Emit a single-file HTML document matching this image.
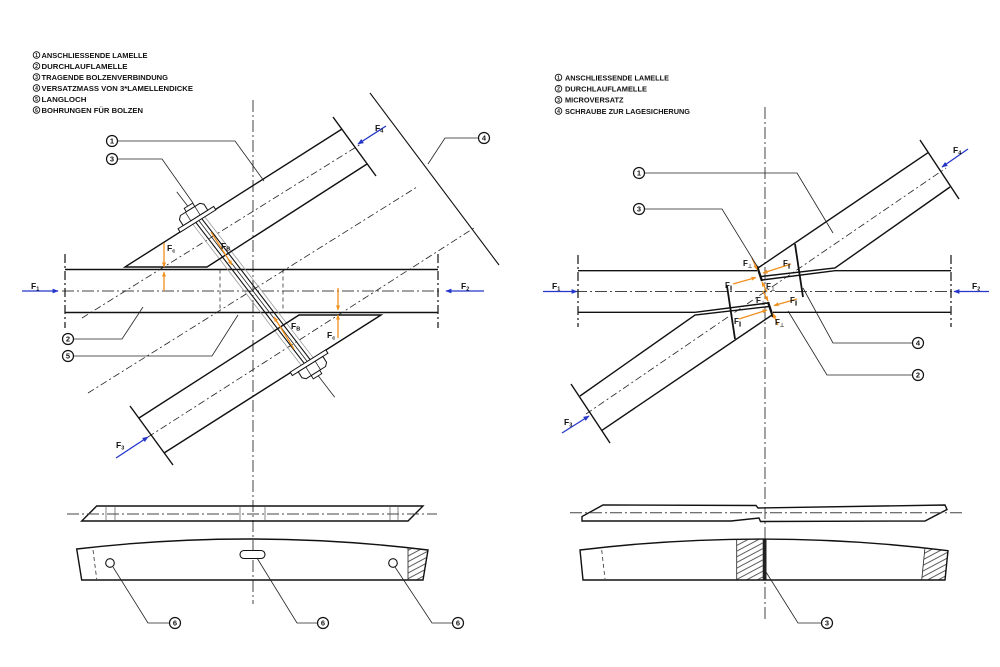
<!DOCTYPE html>
<html><head><meta charset="utf-8"><style>
html,body{margin:0;padding:0;background:#fff;}
svg{display:block}
text{font-family:"Liberation Sans",Arial,sans-serif;font-weight:bold;fill:#111}
.k{stroke:#111;stroke-width:1.4;fill:none}
.th{stroke:#222;stroke-width:0.8;fill:none}
.cl{stroke:#444;stroke-width:1;fill:none;stroke-dasharray:12 3 2 3}
.ce{stroke:#222;stroke-width:1.3;fill:none;stroke-dasharray:9 3 2 3}
.dl{stroke:#222;stroke-width:0.8;fill:none;stroke-dasharray:7 3 2 3}
.ds{stroke:#333;stroke-width:0.8;fill:none;stroke-dasharray:4 3}
.o{stroke:#f0901e;stroke-width:1.3;fill:none}
.b{stroke:#2436c8;stroke-width:1.3;fill:none}
.g{stroke:#9a9a9a;stroke-width:0.8;fill:none}
.lc{fill:#fff;stroke:#111;stroke-width:1.2}
.sc{fill:#fff;stroke:#111;stroke-width:0.9}
</style></head><body>
<svg width="1000" height="667" viewBox="0 0 1000 667" xmlns="http://www.w3.org/2000/svg">
<defs>
<marker id="mb" viewBox="0 0 10 10" refX="9" refY="5" markerWidth="8" markerHeight="6" markerUnits="userSpaceOnUse" orient="auto"><path d="M0,1 L10,5 L0,9 Z" fill="#2436c8"/></marker>
<marker id="mo" viewBox="0 0 10 10" refX="9" refY="5" markerWidth="6" markerHeight="5" markerUnits="userSpaceOnUse" orient="auto"><path d="M0,1 L10,5 L0,9 Z" fill="#f0901e"/></marker>
<pattern id="hp" width="5" height="5" patternUnits="userSpaceOnUse" patternTransform="rotate(-28)"><line x1="0" y1="2.5" x2="5" y2="2.5" stroke="#333" stroke-width="0.8"/></pattern>
</defs>
<rect width="1000" height="667" fill="#fff"/>

<!-- ===== LEFT LEGEND ===== -->
<g font-size="7.5">
<circle class="sc" cx="36.5" cy="55" r="3.3"/><text x="36.5" y="57" font-size="5" text-anchor="middle">1</text>
<text x="41.5" y="57.8" textLength="106" lengthAdjust="spacingAndGlyphs">ANSCHLIESSENDE LAMELLE</text>
<circle class="sc" cx="36.5" cy="66" r="3.3"/><text x="36.5" y="68" font-size="5" text-anchor="middle">2</text>
<text x="41.5" y="68.8" textLength="86" lengthAdjust="spacingAndGlyphs">DURCHLAUFLAMELLE</text>
<circle class="sc" cx="36.5" cy="77" r="3.3"/><text x="36.5" y="79" font-size="5" text-anchor="middle">3</text>
<text x="41.5" y="79.8" textLength="126.5" lengthAdjust="spacingAndGlyphs">TRAGENDE BOLZENVERBINDUNG</text>
<circle class="sc" cx="36.5" cy="88" r="3.3"/><text x="36.5" y="90" font-size="5" text-anchor="middle">4</text>
<text x="41.5" y="90.8" textLength="151.5" lengthAdjust="spacingAndGlyphs">VERSATZMASS VON 3*LAMELLENDICKE</text>
<circle class="sc" cx="36.5" cy="99" r="3.3"/><text x="36.5" y="101" font-size="5" text-anchor="middle">5</text>
<text x="41.5" y="101.8" textLength="45" lengthAdjust="spacingAndGlyphs">LANGLOCH</text>
<circle class="sc" cx="36.5" cy="110" r="3.3"/><text x="36.5" y="112" font-size="5" text-anchor="middle">6</text>
<text x="41.5" y="112.8" textLength="101.5" lengthAdjust="spacingAndGlyphs">BOHRUNGEN FÜR BOLZEN</text>
</g>

<!-- ===== RIGHT LEGEND ===== -->
<g font-size="7.5">
<circle class="sc" cx="558.5" cy="77.5" r="3.3"/><text x="558.5" y="79.5" font-size="5" text-anchor="middle">1</text>
<text x="565" y="80.3" textLength="104" lengthAdjust="spacingAndGlyphs">ANSCHLIESSENDE LAMELLE</text>
<circle class="sc" cx="558.5" cy="88.7" r="3.3"/><text x="558.5" y="90.7" font-size="5" text-anchor="middle">2</text>
<text x="565" y="91.5" textLength="82" lengthAdjust="spacingAndGlyphs">DURCHLAUFLAMELLE</text>
<circle class="sc" cx="558.5" cy="99.9" r="3.3"/><text x="558.5" y="101.9" font-size="5" text-anchor="middle">3</text>
<text x="565" y="102.7" textLength="58.5" lengthAdjust="spacingAndGlyphs">MICROVERSATZ</text>
<circle class="sc" cx="558.5" cy="111" r="3.3"/><text x="558.5" y="113" font-size="5" text-anchor="middle">4</text>
<text x="565" y="113.8" textLength="125" lengthAdjust="spacingAndGlyphs">SCHRAUBE ZUR LAGESICHERUNG</text>
</g>

<!-- ===== LEFT MAIN DRAWING ===== -->
<line class="cl" x1="253" y1="100" x2="253" y2="604"/>
<!-- beam -->
<line class="k" x1="65" y1="269.5" x2="438" y2="269.5"/>
<line class="k" x1="65" y1="312.5" x2="438" y2="312.5"/>
<line class="cl" x1="62" y1="291" x2="442" y2="291"/>
<line class="ce" x1="65" y1="254" x2="65" y2="328"/>
<line class="ce" x1="438" y1="254" x2="438" y2="328"/>
<line class="ds" x1="220" y1="269.5" x2="220" y2="312.5"/>
<line class="ds" x1="283" y1="269.5" x2="283" y2="312.5"/>
<!-- diagonal dashed lines -->
<line class="dl" x1="82" y1="318" x2="361" y2="144"/>
<line class="dl" x1="88" y1="393" x2="417" y2="187"/>
<line class="dl" x1="148" y1="437" x2="474" y2="228"/>
<!-- Versatzmass line -->
<line stroke="#111" stroke-width="1.1" x1="370" y1="93" x2="499" y2="265"/>

<!-- bolt -->
<g transform="translate(253,291) rotate(52.43)">
<line class="th" x1="-125" y1="0" x2="134" y2="0"/>
<line class="g" x1="-90" y1="-7" x2="90" y2="-7"/>
<line class="g" x1="-90" y1="7" x2="90" y2="7"/>
<line stroke="#111" stroke-width="1.1" x1="-89" y1="-3.5" x2="89" y2="-3.5"/>
<line stroke="#111" stroke-width="1.1" x1="-89" y1="3.5" x2="89" y2="3.5"/>
</g>

<!-- member 1 (upper) -->
<g>
<polyline class="k" points="342,129 125,267 207,267 367,164"/>
<line class="k" x1="333" y1="117" x2="376" y2="176"/>
<g transform="translate(198,221) rotate(-32.05)">
<rect x="-5" y="-18" width="10" height="4" fill="#fff" stroke="#111" stroke-width="0.9"/>
<rect x="-21" y="-4" width="42" height="4" fill="#fff" stroke="#111" stroke-width="1"/>
<path d="M-15,-4 L-15,-11 L-12,-14 L11,-14 L14,-11 L14,-4 Z" fill="#fff" stroke="#111" stroke-width="1"/>
<line x1="-6" y1="-4" x2="-6" y2="-14" stroke="#111" stroke-width="0.7"/>
<line x1="5" y1="-4" x2="5" y2="-14" stroke="#111" stroke-width="0.7"/>
</g>
</g>
<!-- member 2 (lower) : point symmetric -->
<g transform="rotate(180 253 291)">
<polyline class="k" points="342,129 125,267 207,267 367,164"/>
<line class="k" x1="333" y1="117" x2="376" y2="176"/>
<g transform="translate(198,221) rotate(-32.05)">
<rect x="-5" y="-18" width="10" height="4" fill="#fff" stroke="#111" stroke-width="0.9"/>
<rect x="-21" y="-4" width="42" height="4" fill="#fff" stroke="#111" stroke-width="1"/>
<path d="M-15,-4 L-15,-11 L-12,-14 L11,-14 L14,-11 L14,-4 Z" fill="#fff" stroke="#111" stroke-width="1"/>
<line x1="-6" y1="-4" x2="-6" y2="-14" stroke="#111" stroke-width="0.7"/>
<line x1="5" y1="-4" x2="5" y2="-14" stroke="#111" stroke-width="0.7"/>
</g>
</g>

<!-- orange forces left -->
<line class="o" x1="164" y1="243" x2="164" y2="267" marker-end="url(#mo)"/>
<line class="o" x1="164" y1="291" x2="164" y2="272" marker-end="url(#mo)"/>
<line class="o" x1="338" y1="288" x2="338" y2="310" marker-end="url(#mo)"/>
<line class="o" x1="338" y1="338" x2="338" y2="315" marker-end="url(#mo)"/>
<line class="o" x1="211" y1="232" x2="232" y2="265" marker-end="url(#mo)"/>
<line class="o" x1="294" y1="349" x2="274" y2="317" marker-end="url(#mo)"/>
<g font-size="8.5">
<text x="167" y="251">F<tspan font-size="5.5" dy="1.5">c</tspan></text>
<text x="221" y="249">F<tspan font-size="5.5" dy="1.5">B</tspan></text>
<text x="291" y="329">F<tspan font-size="5.5" dy="1.5">B</tspan></text>
<text x="327" y="338">F<tspan font-size="5.5" dy="1.5">c</tspan></text>
</g>

<!-- blue forces left -->
<line class="b" x1="22" y1="291" x2="58" y2="291" marker-end="url(#mb)"/>
<line class="b" x1="484" y1="291" x2="446" y2="291" marker-end="url(#mb)"/>
<line class="b" x1="386" y1="126" x2="358" y2="144" marker-end="url(#mb)"/>
<line class="b" x1="116" y1="458" x2="148" y2="437" marker-end="url(#mb)"/>
<g font-size="8.5">
<text x="31" y="289">F<tspan font-size="5.5" dy="1.5">1</tspan></text>
<text x="461" y="289">F<tspan font-size="5.5" dy="1.5">2</tspan></text>
<text x="375" y="131">F<tspan font-size="5.5" dy="1.5">4</tspan></text>
<text x="116" y="448">F<tspan font-size="5.5" dy="1.5">3</tspan></text>
</g>

<!-- leaders left -->
<polyline class="th" stroke-width="1" points="478.5,138 445,138 428,164"/>
<polyline class="th" stroke-width="1" points="117.5,141 235,141 264,181"/>
<polyline class="th" stroke-width="1" points="117.5,159 162,159 193,203"/>
<polyline class="th" stroke-width="1" points="73.5,339 122,339 143,307"/>
<polyline class="th" stroke-width="1" points="73.5,356 212,356 238,315"/>
<g font-size="7.5" text-anchor="middle">
<circle class="lc" cx="484" cy="138" r="5.5"/><text x="484" y="140.7">4</text>
<circle class="lc" cx="112" cy="141" r="5.5"/><text x="112" y="143.7">1</text>
<circle class="lc" cx="112" cy="159" r="5.5"/><text x="112" y="161.7">3</text>
<circle class="lc" cx="68" cy="339" r="5.5"/><text x="68" y="341.7">2</text>
<circle class="lc" cx="68" cy="356" r="5.5"/><text x="68" y="358.7">5</text>
</g>

<!-- left bottom parts -->
<polygon class="k" points="96.7,506 423,506 408,521 81.7,521"/>
<line class="cl" x1="67" y1="514" x2="437" y2="514"/>
<g stroke="#555" stroke-width="0.7">
<line x1="106" y1="506" x2="106" y2="521"/><line x1="115" y1="506" x2="115" y2="521"/>
<line x1="240" y1="506" x2="240" y2="521"/><line x1="265" y1="506" x2="265" y2="521"/>
<line x1="390" y1="506" x2="390" y2="521"/><line x1="398" y1="506" x2="398" y2="521"/>
</g>
<path d="M408,547.6 Q418,548.8 428,550 L423,580 L408,580 Z" fill="url(#hp)" stroke="none"/>
<path class="k" d="M76.7,549 Q252,528.5 428,550 L423,580 L81.7,580 Z"/>
<line class="th" x1="408" y1="547.6" x2="408" y2="580"/>
<line class="ds" x1="93" y1="550" x2="96.7" y2="579"/>
<circle cx="110" cy="563" r="4.3" fill="#fff" stroke="#111" stroke-width="1.1"/>
<circle cx="393" cy="563" r="4.3" fill="#fff" stroke="#111" stroke-width="1.1"/>
<rect x="240" y="550.5" width="25" height="8" rx="4" fill="#fff" stroke="#111" stroke-width="1.1"/>
<polyline class="th" stroke-width="1" points="169.5,623 148,623 113,567"/>
<polyline class="th" stroke-width="1" points="317.5,623 297,623 257,558"/>
<polyline class="th" stroke-width="1" points="452.5,623 432,623 395,567"/>
<g font-size="7.5" text-anchor="middle">
<circle class="lc" cx="175" cy="623" r="5.5"/><text x="175" y="625.7">6</text>
<circle class="lc" cx="323" cy="623" r="5.5"/><text x="323" y="625.7">6</text>
<circle class="lc" cx="458" cy="623" r="5.5"/><text x="458" y="625.7">6</text>
</g>

<!-- ===== RIGHT MAIN DRAWING ===== -->
<line class="cl" x1="765" y1="107" x2="765" y2="620"/>
<line class="k" x1="578" y1="270.7" x2="757" y2="270.7"/>
<line class="k" x1="835" y1="270.7" x2="951" y2="270.7"/>
<line class="k" x1="578" y1="312.3" x2="695" y2="312.3"/>
<line class="k" x1="773" y1="312.3" x2="951" y2="312.3"/>
<line class="cl" x1="575" y1="291.5" x2="955" y2="291.5"/>
<line class="ce" x1="578" y1="255" x2="578" y2="327"/>
<line class="ce" x1="951" y1="255" x2="951" y2="327"/>
<line class="dl" x1="586" y1="414" x2="946" y2="168"/>

<g>
<line class="k" x1="928" y1="152.7" x2="758" y2="268"/>
<polyline class="k" points="950,187 835,268 761,276.5"/>
<line class="k" x1="835" y1="270.7" x2="762" y2="280"/>
<line class="k" x1="920" y1="140" x2="959" y2="199"/>
<line stroke="#111" stroke-width="2.3" x1="757" y1="266" x2="762" y2="281"/>
<line stroke="#111" stroke-width="1.8" x1="795" y1="244" x2="803" y2="297"/>
<line class="o" x1="752" y1="258" x2="757" y2="269.5" marker-end="url(#mo)"/>
<line class="o" x1="791" y1="264" x2="763" y2="273" marker-end="url(#mo)"/>
<line class="o" x1="733" y1="284" x2="756" y2="277.5" marker-end="url(#mo)"/>
<line class="o" x1="767" y1="292" x2="762" y2="282" marker-end="url(#mo)"/>
</g>
<g transform="rotate(180 765 291.5)">
<line class="k" x1="928" y1="152.7" x2="758" y2="268"/>
<polyline class="k" points="950,187 835,268 761,276.5"/>
<line class="k" x1="835" y1="270.7" x2="762" y2="280"/>
<line class="k" x1="920" y1="140" x2="959" y2="199"/>
<line stroke="#111" stroke-width="2.3" x1="757" y1="266" x2="762" y2="281"/>
<line stroke="#111" stroke-width="1.8" x1="795" y1="244" x2="803" y2="297"/>
<line class="o" x1="752" y1="258" x2="757" y2="269.5" marker-end="url(#mo)"/>
<line class="o" x1="791" y1="264" x2="763" y2="273" marker-end="url(#mo)"/>
<line class="o" x1="733" y1="284" x2="756" y2="277.5" marker-end="url(#mo)"/>
<line class="o" x1="767" y1="292" x2="762" y2="282" marker-end="url(#mo)"/>
</g>
<g font-size="8">
<text x="743" y="266">F<tspan font-size="5" dy="1.5">⊥</tspan></text>
<text x="783" y="266">F<tspan font-size="5" dy="1.5">∥</tspan></text>
<text x="725" y="288">F<tspan font-size="5" dy="1.5">∥</tspan></text>
<text x="766" y="289">F<tspan font-size="5" dy="1.5">⊥</tspan></text>
<text x="756" y="303">F<tspan font-size="5" dy="1.5">⊥</tspan></text>
<text x="790" y="303">F<tspan font-size="5" dy="1.5">∥</tspan></text>
<text x="734" y="324">F<tspan font-size="5" dy="1.5">∥</tspan></text>
<text x="775" y="325">F<tspan font-size="5" dy="1.5">⊥</tspan></text>
</g>

<!-- blue forces right -->
<line class="b" x1="543" y1="291.5" x2="577" y2="291.5" marker-end="url(#mb)"/>
<line class="b" x1="989" y1="291.5" x2="954" y2="291.5" marker-end="url(#mb)"/>
<line class="b" x1="968" y1="149" x2="942" y2="167" marker-end="url(#mb)"/>
<line class="b" x1="562" y1="433" x2="589" y2="416" marker-end="url(#mb)"/>
<g font-size="8.5">
<text x="552" y="289">F<tspan font-size="5.5" dy="1.5">1</tspan></text>
<text x="972" y="289">F<tspan font-size="5.5" dy="1.5">2</tspan></text>
<text x="953" y="153">F<tspan font-size="5.5" dy="1.5">4</tspan></text>
<text x="564" y="425">F<tspan font-size="5.5" dy="1.5">3</tspan></text>
</g>

<!-- leaders right -->
<polyline class="th" stroke-width="1" points="644.5,173 797,173 833,233"/>
<polyline class="th" stroke-width="1" points="644.5,209 722,209 757,266"/>
<polyline class="th" stroke-width="1" points="912.5,343 833,343 803,288"/>
<polyline class="th" stroke-width="1" points="912.5,375 827,375 788,311"/>
<g font-size="7.5" text-anchor="middle">
<circle class="lc" cx="639" cy="173" r="5.5"/><text x="639" y="175.7">1</text>
<circle class="lc" cx="639" cy="209" r="5.5"/><text x="639" y="211.7">3</text>
<circle class="lc" cx="918" cy="343" r="5.5"/><text x="918" y="345.7">4</text>
<circle class="lc" cx="918" cy="375" r="5.5"/><text x="918" y="377.7">2</text>
</g>

<!-- right bottom parts -->
<polygon class="k" stroke-width="1.2" points="603,505 756,505.5 758,508 945,505 947,509.5 925,521 760.5,521.5 759,518 731,521 582,521 582,516.5"/>
<line class="cl" x1="570" y1="512.7" x2="965" y2="512.7"/>
<path d="M736.7,539.6 L762.7,539.1 L762.7,580 L736.7,580 Z" fill="url(#hp)"/>
<path d="M925,547.6 Q936.5,549 948,550.7 L945,580 L921.7,580 Z" fill="url(#hp)"/>
<rect x="762.7" y="539" width="3.8" height="41" fill="#222"/>
<path class="k" d="M580,550 Q764,527.7 948,550.7 L945,580 L583,580 Z"/>
<line class="th" x1="736.7" y1="539.6" x2="736.7" y2="580"/>
<line class="th" x1="925" y1="547.6" x2="921.7" y2="580"/>
<line class="ds" x1="601.7" y1="550" x2="605" y2="579"/>
<polyline class="th" stroke-width="1" points="821.5,623 798,623 766,572"/>
<g font-size="7.5" text-anchor="middle">
<circle class="lc" cx="827" cy="623" r="5.5"/><text x="827" y="625.7">3</text>
</g>
</svg>
</body></html>
